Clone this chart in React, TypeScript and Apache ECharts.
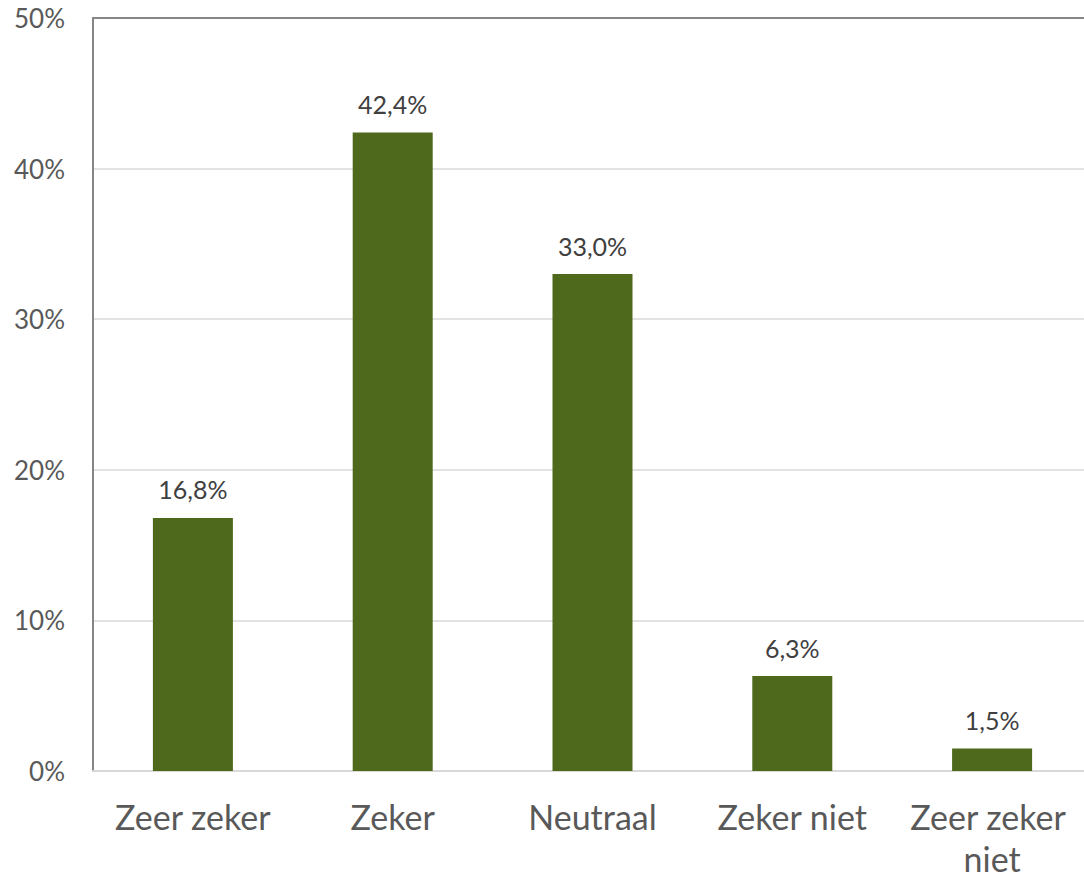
import React, { useEffect, useRef } from "react";
import * as echarts from "echarts";

const categories = ["Zeer zeker", "Zeker", "Neutraal", "Zeker niet", "Zeer zeker niet"];
const values = [16.8, 42.4, 33.0, 6.3, 1.5];
const yMin = 0;
const yMax = 50;
const yInterval = 10;

const FONT = "Lato, 'Liberation Sans', sans-serif";

export default function App() {
  const ref = useRef<HTMLDivElement>(null);
  useEffect(() => {
    document.body.style.margin = "0";
    const chart = echarts.init(ref.current!, null, { renderer: "svg" });
    chart.setOption({
      animation: false,
      backgroundColor: "#ffffff",
      grid: { left: 93, right: 0, top: 18, bottom: 108, containLabel: false },
      xAxis: [
        {
          type: "category",
          data: categories,
          axisLine: { show: true, lineStyle: { color: "#d9d9d9", width: 2 } },
          axisTick: { show: false },
          axisLabel: {
            color: "#595959",
            fontFamily: FONT,
            fontSize: 34,
            lineHeight: 42,
            margin: 24,
            width: 196,
            overflow: "break",
            interval: 0,
          },
        },
        {
          type: "category",
          position: "top",
          data: categories,
          axisLine: { show: true, lineStyle: { color: "#868686", width: 2 } },
          axisTick: { show: false },
          axisLabel: { show: false },
        },
      ],
      yAxis: {
        type: "value",
        min: yMin,
        max: yMax,
        interval: yInterval,
        axisLine: { show: true, lineStyle: { color: "#868686", width: 2 } },
        axisTick: { show: false },
        splitLine: { lineStyle: { color: "#d9d9d9", width: 1.5 } },
        axisLabel: {
          formatter: (v: number) => v + "%",
          color: "#595959",
          fontFamily: FONT,
          fontSize: 26,
          margin: 28,
        },
      },
      series: [
        {
          type: "bar",
          data: values,
          barWidth: 80,
          itemStyle: { color: "#4e681c" },
          label: {
            show: true,
            position: "top",
            distance: 16,
            color: "#404040",
            fontFamily: FONT,
            fontSize: 25,
            formatter: (p: any) => p.value.toFixed(1).replace(".", ",") + "%",
          },
        },
      ],
    });
    return () => chart.dispose();
  }, []);
  return (
    <div style={{ width: 1084, height: 879, overflow: "hidden", position: "relative" }}>
      <div ref={ref} style={{ width: 1093, height: 879 }} />
    </div>
  );
}
